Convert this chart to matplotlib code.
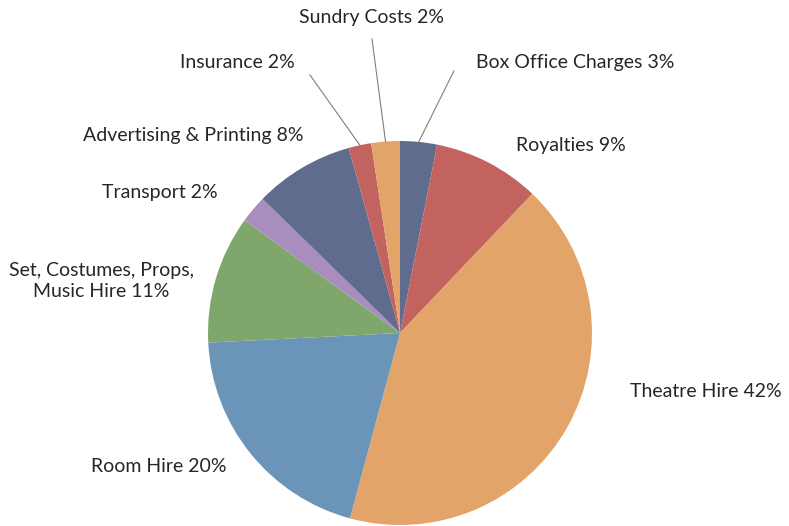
import matplotlib
matplotlib.use("Agg")
import matplotlib.pyplot as plt
import numpy as np

plt.rcParams["font.family"] = ["Lato", "DejaVu Sans"]

# slice data, clockwise from 12 o'clock
labels = ["Box Office Charges 3%", "Royalties 9%", "Theatre Hire 42%", "Room Hire 20%",
          "Set, Costumes, Props,\nMusic Hire 11%", "Transport 2%",
          "Advertising & Printing 8%", "Insurance 2%", "Sundry Costs 2%"]
shares = [3.1, 9.0, 42.1, 20.0, 10.8, 2.3, 8.4, 1.9, 2.4]

# palette
SLATE = "#606C8E"
RED = "#C2635F"
ORANGE = "#E2A468"
BLUE = "#6A95B8"
GREEN = "#7FA76C"
PURPLE = "#A88DBE"
colors = [SLATE, RED, ORANGE, BLUE, GREEN, PURPLE, SLATE, RED, ORANGE]

# label placement (data units, pie radius = 1)
label_pos = [(0.911, 1.411), (0.891, 0.979), (1.594, -0.307), (-1.255, -0.693),
             (-1.557, 0.271), (-1.25, 0.734), (-1.078, 1.031), (-0.849, 1.411),
             (-0.146, 1.641)]
# leader line outer ends for the small top slices
leaders = {0: (0.281, 1.365), 7: (-0.469, 1.344), 8: (-0.146, 1.531)}

fig = plt.figure(figsize=(7.89, 5.26), dpi=100)
ax = fig.add_axes([0, 0, 1, 1])
wedges, _ = ax.pie(shares, colors=colors, startangle=90, counterclock=False,
                   radius=1.0, wedgeprops=dict(linewidth=0))
ax.set_xlim(-400 / 192, 389 / 192)
ax.set_ylim(-193 / 192, 333 / 192)
ax.set_aspect("auto")
ax.axis("off")

for i, (w, lab) in enumerate(zip(wedges, labels)):
    x, y = label_pos[i]
    ax.text(x, y, lab, ha="center", va="center", fontsize=14, color="#262626",
            linespacing=1.35)
    if i in leaders:
        mid = np.deg2rad((w.theta1 + w.theta2) / 2)
        ax.plot([np.cos(mid), leaders[i][0]], [np.sin(mid), leaders[i][1]],
                color="#7F7F7F", lw=0.8)

fig.savefig("out.png", dpi=100)
